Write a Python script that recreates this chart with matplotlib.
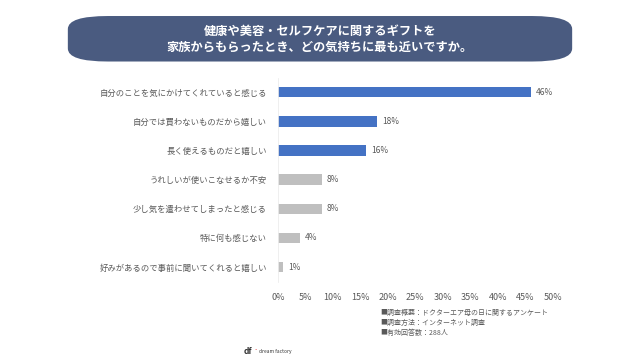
import matplotlib.pyplot as plt
from matplotlib.patches import FancyBboxPatch

plt.rcParams['font.family'] = ['Noto Sans CJK JP', 'DejaVu Sans']

labels = ['自分のことを気にかけてくれていると感じる', '自分では買わないものだから嬉しい', '長く使えるものだと嬉しい',
          'うれしいが使いこなせるか不安', '少し気を遣わせてしまったと感じる', '特に何も感じない',
          '好みがあるので事前に聞いてくれると嬉しい']
values = [46, 18, 16, 8, 8, 4, 1]
colors = ['#4472C4'] * 3 + ['#BFBFBF'] * 4
xticks = [0, 5, 10, 15, 20, 25, 30, 35, 40, 45, 50]
title = '健康や美容・セルフケアに関するギフトを\n家族からもらったとき、どの気持ちに最も近いですか。'
notes = ['■調査概要：ドクターエア母の日に関するアンケート', '■調査方法：インターネット調査', '■有効回答数：288人']

fig = plt.figure(figsize=(6.4, 3.64), dpi=100)
ax = fig.add_axes([0.434, 0.226, 0.43, 0.561])

y = list(range(len(labels)))
ax.barh(y, values, height=0.36, color=colors)
for yi, v in zip(y, values):
    ax.text(v + 0.9, yi, f'{v}%', va='center', ha='left', fontsize=6, color='#595959')

ax.set_ylim(len(labels) - 0.5, -0.5)
ax.set_xlim(0, 50)
ax.set_xticks(xticks)
ax.set_xticklabels([f'{t}%' for t in xticks], fontsize=6.5, color='#595959')
ax.set_yticks(y)
ax.set_yticklabels(labels, fontsize=6, color='#595959')
ax.tick_params(axis='x', length=0, pad=8)
ax.tick_params(axis='y', length=0, pad=8)
for s in ['top', 'right', 'bottom']:
    ax.spines[s].set_visible(False)
ax.spines['left'].set_color('#EDEDED')
ax.spines['left'].set_linewidth(0.6)

# title banner
box = FancyBboxPatch((0.106, 0.831), 0.788, 0.125, boxstyle='round,pad=0,rounding_size=0.0625',
                     transform=fig.transFigure, facecolor='#4A5B80', edgecolor='none',
                     mutation_aspect=3.64 / 6.4)
fig.patches.append(box)
fig.text(0.5, 0.893, title, ha='center', va='center', color='white', fontsize=8.8,
         fontweight='bold', linespacing=1.25)

for i, n in enumerate(notes):
    fig.text(0.594, 0.14 - i * 0.028, n, fontsize=5, color='#595959', va='center')

fig.text(0.38, 0.033, 'df', fontsize=6, fontweight='bold', color='#333333', va='center')
fig.text(0.397, 0.045, '.', fontsize=5, fontweight='bold', color='#E03030', va='center')
fig.text(0.405, 0.033, 'dream factory', fontsize=3.5, color='#333333', va='center')

fig.savefig('out.png', dpi=100, facecolor='white')
